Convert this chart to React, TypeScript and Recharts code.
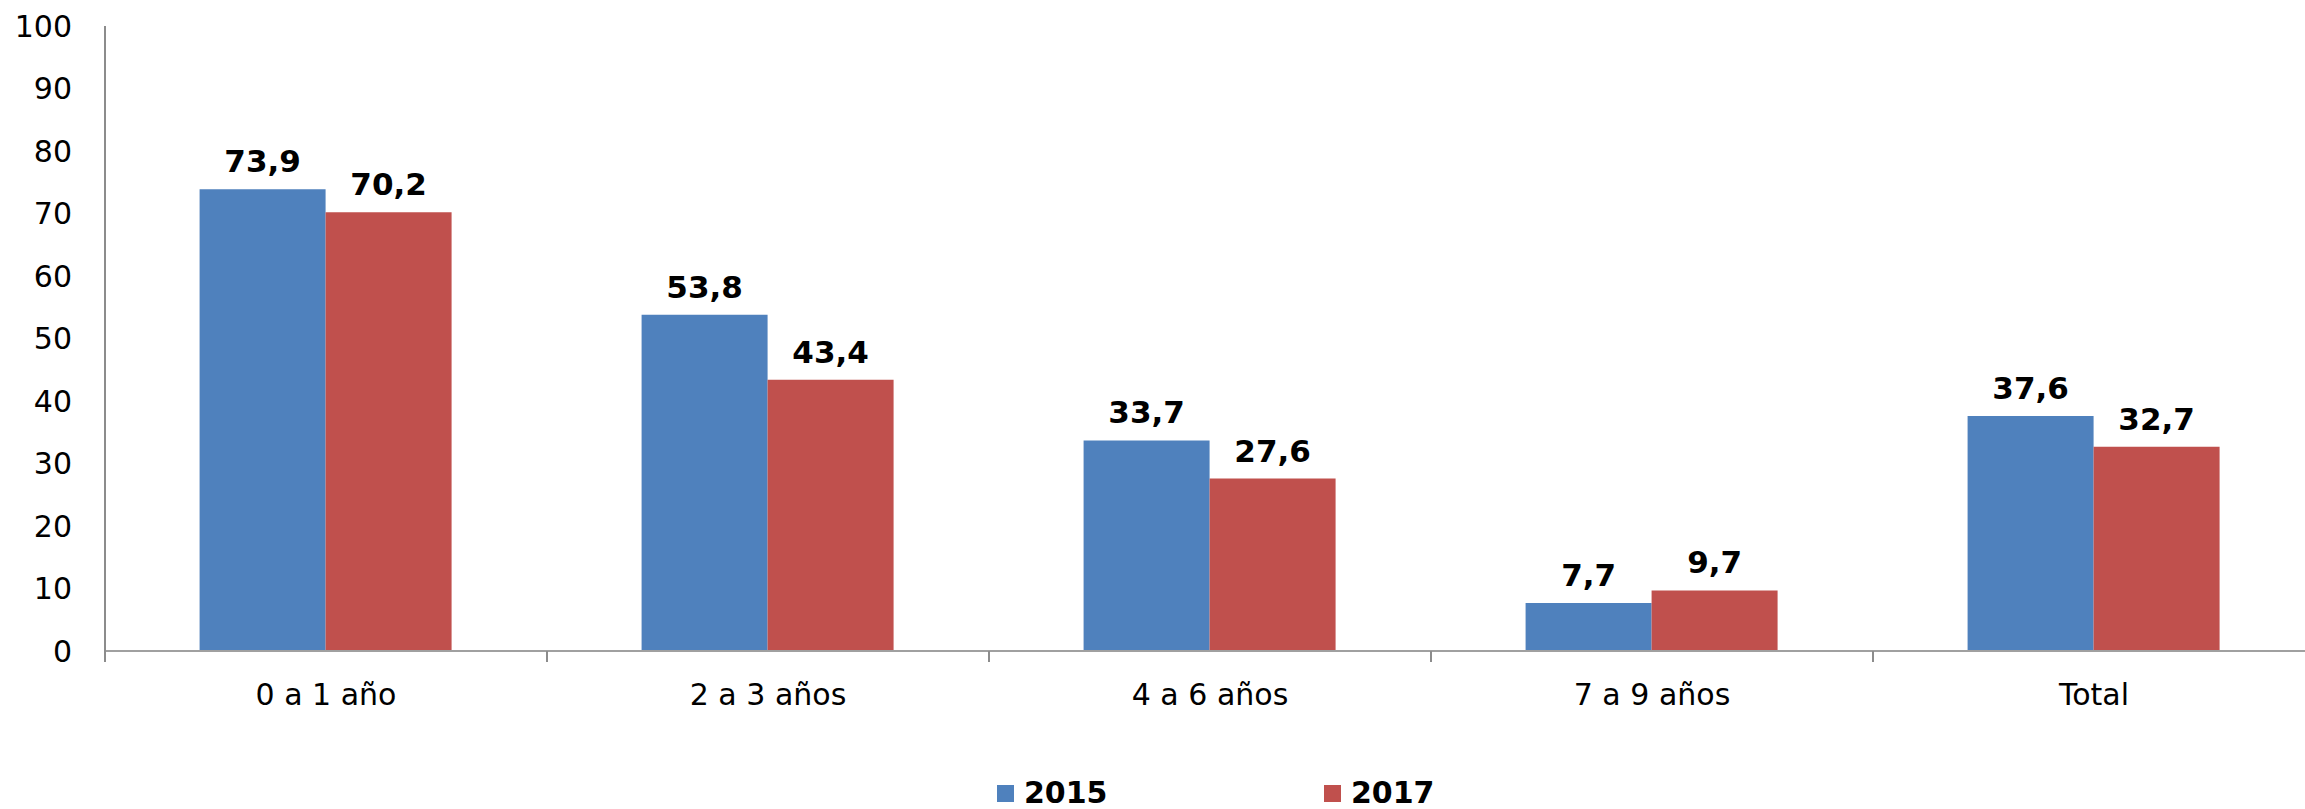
import { BarChart, Bar, XAxis, YAxis, Legend, LabelList } from "recharts";

const categories = ["0 a 1 año", "2 a 3 años", "4 a 6 años", "7 a 9 años", "Total"];
const values2015 = [73.9, 53.8, 33.7, 7.7, 37.6];
const values2017 = [70.2, 43.4, 27.6, 9.7, 32.7];
const yTicks = [0, 10, 20, 30, 40, 50, 60, 70, 80, 90, 100];

const data = categories.map((name, i) => ({
  name,
  y2015: values2015[i],
  y2017: values2017[i],
}));

const FONT = "'DejaVu Sans', Verdana, sans-serif";
const BLUE = "#4F81BD";
const RED = "#C0504D";
const AXIS = "#8c8c8c";

const fmt = (v: any) => String(v).replace(".", ",");

// category label plus a tick mark on the boundary between categories
function CategoryTick(props: any) {
  const { x, y, payload, index } = props;
  const half = payload?.offset ?? 221;
  return (
    <g>
      <line x1={x + half} y1={y} x2={x + half} y2={y + 11} stroke={AXIS} strokeWidth={2} />
      {index === 0 && <line x1={x - half} y1={y} x2={x - half} y2={y + 11} stroke={AXIS} strokeWidth={2} />}
      <text x={x} y={y + 54} textAnchor="middle" fontFamily={FONT} fontSize={30} fill="#000">
        {payload.value}
      </text>
    </g>
  );
}

function LegendBox() {
  const items = [
    { label: "2015", color: BLUE, left: 997 },
    { label: "2017", color: RED, left: 1324 },
  ];
  return (
    <div style={{ position: "relative", width: 2305, height: 40 }}>
      {items.map((it) => (
        <div
          key={it.label}
          style={{ position: "absolute", left: it.left, top: 8, display: "flex", alignItems: "center", height: 32 }}
        >
          <span style={{ width: 17, height: 17, background: it.color, marginRight: 10, display: "inline-block" }} />
          <span style={{ fontFamily: FONT, fontWeight: "bold", fontSize: 30, color: "#000", lineHeight: "32px" }}>
            {it.label}
          </span>
        </div>
      ))}
    </div>
  );
}

const labelStyle = { fontFamily: FONT, fontWeight: "bold", fontSize: 31, fill: "#000" };

export default function App() {
  return (
    <div style={{ position: "absolute", left: 0, top: 0, width: 2305, height: 809, overflow: "hidden", background: "#fff" }}>
      <BarChart
        width={2315}
        height={809}
        data={data}
        margin={{ top: 26, right: 0, bottom: 0, left: 0 }}
        barCategoryGap="21.4%"
        barGap={0}
      >
        <XAxis
          dataKey="name"
          height={118}
          interval={0}
          stroke={AXIS}
          axisLine={{ stroke: "#a0a0a0", strokeWidth: 2 }}
          tickLine={false}
          tickSize={0}
          tickMargin={0}
          tick={<CategoryTick />}
        />
        <YAxis
          domain={[0, 100]}
          ticks={yTicks}
          width={105}
          interval={0}
          axisLine={{ stroke: AXIS, strokeWidth: 2 }}
          tickLine={false}
          tickSize={0}
          tickMargin={33}
          tick={{ fontFamily: FONT, fontSize: 30, fill: "#000" }}
        />
        <Legend verticalAlign="bottom" content={<LegendBox />} />
        <Bar dataKey="y2015" name="2015" fill={BLUE} isAnimationActive={false}>
          <LabelList dataKey="y2015" position="top" offset={17} formatter={fmt} style={labelStyle} />
        </Bar>
        <Bar dataKey="y2017" name="2017" fill={RED} isAnimationActive={false}>
          <LabelList dataKey="y2017" position="top" offset={17} formatter={fmt} style={labelStyle} />
        </Bar>
      </BarChart>
    </div>
  );
}
